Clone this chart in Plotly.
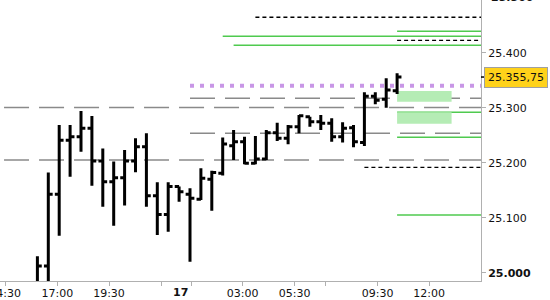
import plotly.graph_objects as go

# ---- OHLC bars (bar index, price) ----
opens = [24975, 25012, 25142.5, 25241, 25247, 25262.5, 25203, 25165.5, 25172.5, 25203,
         25229, 25140, 25106, 25156.5, 25142.5, 25133.5, 25170, 25180.75, 25230.75, 25238.25,
         25199, 25206.75, 25254.5, 25244.5, 25265.5, 25283.5, 25274.5, 25271.5, 25247.25, 25263.5,
         25236.5, 25320.75, 25315.25, 25331]
highs = [25030, 25182, 25268.5, 25268.5, 25294, 25285, 25226, 25202, 25223, 25244.5,
         25253.5, 25164.5, 25164.5, 25156.5, 25153.5, 25190, 25185.5, 25246, 25259.5, 25247.25,
         25248.5, 25259.5, 25272.75, 25268.5, 25286.75, 25283.5, 25286.75, 25280.75, 25273.5, 25268.5,
         25328, 25328, 25353.5, 25362.5]
lows = [24960, 24960, 25067, 25174.5, 25220, 25158, 25120, 25085.5, 25122, 25182.5,
        25120, 25068.5, 25074.5, 25129, 25020, 25132, 25112.75, 25176.5, 25205, 25197,
        25197, 25205, 25239.5, 25233.5, 25253.5, 25265.5, 25259.5, 25238.25, 25236.5, 25228,
        25230.5, 25306.25, 25300, 25324.75]
closes = [25012, 25142.5, 25241, 25247, 25262.5, 25203, 25165.5, 25172.5, 25203, 25229,
          25140, 25106, 25156.5, 25147.25, 25135.25, 25171.5, 25182, 25234, 25238.25, 25199,
          25206.75, 25254.5, 25244.5, 25265.5, 25285.5, 25274.5, 25271.5, 25247.25, 25262.5, 25238.25,
          25320.75, 25313.5, 25332.25, 25355.75]
bar_idx = list(range(len(opens)))

# ---- x axis ticks (bar-index units) ----
x_tickvals = [-2.97, 1.83, 6.57, 11.37, 14.16, 18.83, 23.6, 26.39, 31.22, 35.93]
x_ticktext = ["14:30", "17:00", "19:30", "", "", "03:00", "05:30", "", "09:30", "12:00"]
day_label = "17"
day_label_x = 13.17

# ---- y axis ticks ----
y_tickvals = [25000, 25100, 25200, 25300, 25400]
y_ticktext = ["<b>25.000</b>", "25.100", "25.200", "25.300", "25.400"]
top_tick_val = 25500
top_tick_text = "<b>25.500</b>"

# ---- horizontal levels: (price, start bar index) ----
gray_levels = [25317.1, 25300.4, 25253.5, 25204.9]
gray_starts = [14, -3.06, 14, -3.06]
green_levels = [25438.9, 25429.8, 25413.5, 25291.6, 25246.2, 25104.9]
green_starts = [33, 17, 18, 33, 33, 33]
black_levels = [25464.4, 25422.5, 25191.6]
black_starts = [20, 33, 30]
purple_level = 25340
purple_start = 14
zone_lo = [25311, 25270.9]
zone_hi = [25330.4, 25291.6]
zone_x0 = 33
zone_x1 = 38

last_label = "25.355,75"

XMIN, XMAX = -3.431, 40.697
YMIN, YMAX = 24984.9, 25495.8

fig = go.Figure()
fig.add_trace(go.Ohlc(
    x=bar_idx, open=opens, high=highs, low=lows, close=closes,
    increasing=dict(line=dict(color="black", width=3)),
    decreasing=dict(line=dict(color="black", width=3)),
    tickwidth=0.4, hoverinfo="skip", showlegend=False,
))

shapes = []
for lv, st in zip(gray_levels, gray_starts):
    shapes.append(dict(type="line", xref="x", yref="y", x0=st, x1=XMAX, y0=lv, y1=lv,
                       line=dict(color="#8a8a8a", width=1.5, dash="25px,10px"), layer="below"))
for lv, st in zip(green_levels, green_starts):
    shapes.append(dict(type="line", xref="x", yref="y", x0=st, x1=XMAX, y0=lv, y1=lv,
                       line=dict(color="#4fca4f", width=1.5), layer="below"))
for lv, st in zip(black_levels, black_starts):
    shapes.append(dict(type="line", xref="x", yref="y", x0=st, x1=XMAX, y0=lv, y1=lv,
                       line=dict(color="black", width=1.3, dash="4px,3px"), layer="below"))
shapes.append(dict(type="line", xref="x", yref="y", x0=purple_start, x1=XMAX,
                   y0=purple_level, y1=purple_level,
                   line=dict(color="#c896e6", width=4, dash="4px,6px"), layer="below"))
for lo, hi in zip(zone_lo, zone_hi):
    shapes.append(dict(type="rect", xref="x", yref="y", x0=zone_x0, x1=zone_x1, y0=lo, y1=hi,
                       fillcolor="#b5ecb5", line=dict(width=0), layer="below"))
# small marker at current price on right axis
shapes.append(dict(type="line", xref="paper", yref="y", x0=1.0, x1=1.009,
                   y0=closes[-1], y1=closes[-1], line=dict(color="black", width=1.5)))

annotations = [
    dict(text="<b>" + day_label + "</b>", x=day_label_x, xref="x", y=0, yref="paper",
         yanchor="top", yshift=-3, showarrow=False,
         font=dict(family="DejaVu Sans", size=11, color="#111")),
    dict(text=top_tick_text, x=1.0, xref="paper", xanchor="left", xshift=8,
         y=(top_tick_val - YMIN) / (YMAX - YMIN), yref="paper", yanchor="middle",
         showarrow=False, font=dict(family="DejaVu Sans", size=11, color="#111")),
    dict(text=last_label, x=1.0, xref="paper", xanchor="left", xshift=3,
         y=closes[-1], yref="y", yanchor="middle", showarrow=False,
         bgcolor="#ffd21a", bordercolor="#a0a0a0", borderwidth=1, borderpad=3,
         font=dict(family="DejaVu Sans", size=11, color="#111")),
]

fig.update_layout(
    width=550, height=300,
    margin=dict(l=0, r=69, t=0, b=19, autoexpand=False),
    paper_bgcolor="white", plot_bgcolor="white",
    shapes=shapes, annotations=annotations,
    showlegend=False,
    xaxis=dict(range=[XMIN, XMAX], rangeslider=dict(visible=False), showgrid=False,
               zeroline=False, showline=True, linecolor="#b0b0b0", linewidth=1,
               ticks="outside", ticklen=4, tickcolor="#b0b0b0", automargin=False,
               tickvals=x_tickvals, ticktext=x_ticktext, ticklabeloverflow="allow",
               ticklabelstandoff=-2,
               tickfont=dict(family="DejaVu Sans", size=11, color="#111")),
    yaxis=dict(range=[YMIN, YMAX], side="right", showgrid=False, zeroline=False,
               showline=True, linecolor="#b0b0b0", linewidth=1, automargin=False,
               ticks="outside", ticklen=4, tickcolor="#b0b0b0",
               tickvals=y_tickvals, ticktext=y_ticktext,
               tickfont=dict(family="DejaVu Sans", size=11, color="#111")),
)

fig.write_html("out.html")
